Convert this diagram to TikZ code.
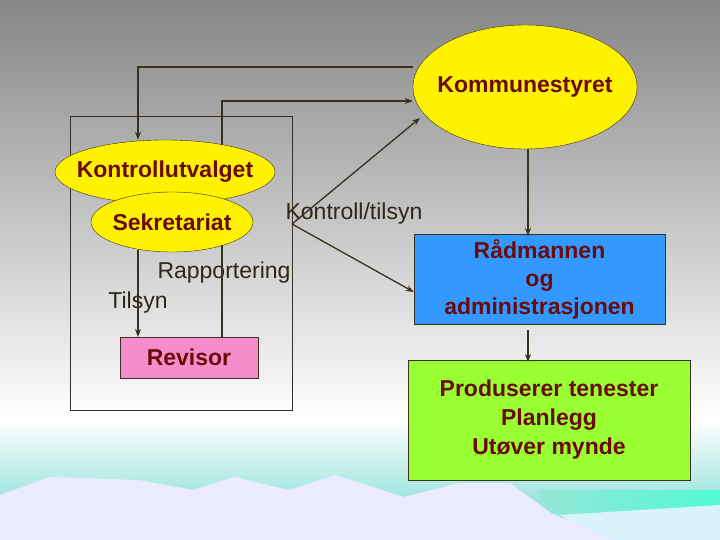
\documentclass[tikz,border=0pt]{standalone}
\usepackage{fontspec}
\setmainfont{Liberation Sans}
\usetikzlibrary{arrows.meta,shapes.geometric}
\definecolor{txt}{HTML}{6B0A0A}
\definecolor{ln}{HTML}{3A3020}
\tikzset{
  ell/.style={draw=ln,fill=yellow,ellipse,inner sep=0pt},
  etxt/.style={font=\bfseries\fontsize{23}{26}\selectfont,text=txt},
  box/.style={draw=ln,rectangle,inner sep=0pt,font=\bfseries\fontsize{23}{28}\selectfont,text=txt,align=center},
  conn/.style={draw=ln,line width=1.3pt},
  arr/.style={conn,-{Stealth[length=8pt,width=6pt]}},
  lbl/.style={font=\fontsize{23}{26}\selectfont,text=ln!80!black}
}
\begin{document}
\begin{tikzpicture}[x=1pt,y=-1pt]
\useasboundingbox (0,0) rectangle (720,540);
\shade[top color=gray!95,bottom color=white] (0,0) rectangle (720,420);
\shade[top color=white,bottom color={rgb,255:red,110;green,215;blue,205}] (0,420) rectangle (720,540);
\shade[left color={rgb,255:red,150;green,230;blue,215},right color={rgb,255:red,80;green,250;blue,210}] (540,490) rectangle (720,540);
\fill[white!85!cyan] (560,515) -- (720,505) -- (720,540) -- (600,540) -- cycle;
\fill[blue!8!white] (0,495) -- (50,477) -- (138,480) -- (193,490) -- (234,477) -- (289,490) -- (335,475) -- (404,497) -- (459,483) -- (510,483) -- (551,513) -- (615,540) -- (0,540) -- cycle;
\node[draw=ln,line width=1pt,minimum width=222,minimum height=293,inner sep=0pt] (frame) at (181,263.5) {};
\node[ell,minimum width=224,minimum height=124] (ks) at (525,87) {};
\node[etxt] (kst) at (ks) {Kommunestyret};
\node[ell,minimum width=220,minimum height=64] (ku) at (165,172) {};
\node[etxt] (kut) at (ku) {Kontrollutvalget};
\node[ell,minimum width=162,minimum height=60] (sek) at (172,222) {};
\node[etxt] (sekt) at (sek) {Sekretariat};
\node[box,fill=magenta!45,minimum width=138,minimum height=41] (rev) at (189,357.5) {Revisor};
\node[box,fill={rgb,255:red,51;green,153;blue,255},minimum width=251,minimum height=90] (rad) at (539.5,279) {Rådmannen\\og\\administrasjonen};
\node[box,fill={rgb,255:red,153;green,255;blue,51},minimum width=282,minimum height=120,font=\fontsize{23}{29}\selectfont\bfseries] (prod) at (549,420) {Produserer tenester\\Planlegg\\Utøver mynde};
\node[lbl] (kt) at (354,214) {Kontroll/tilsyn};
\node[lbl] (rp) at (224,273) {Rapportering};
\node[lbl] (ts) at (138,303) {Tilsyn};
\coordinate (kc) at (292,224);
\draw[arr] (ks.west |- 0,67) -- (138,67) -- (ku.north -| 138,0);
\draw[arr] (222,145) -- (222,101) -- (ks.west |- 0,101);
\draw[arr] (kc) -- (420,118);
\draw[arr] (kc) -- (rad.west |- 0,292);
\draw[arr] (138,250) -- (138,337);
\draw[conn] (222,337) -- (222,245);
\draw[arr] (ks.south -| 528,0) -- (528,236);
\draw[arr] (528,330) -- (528,362);
\end{tikzpicture}
\end{document}
